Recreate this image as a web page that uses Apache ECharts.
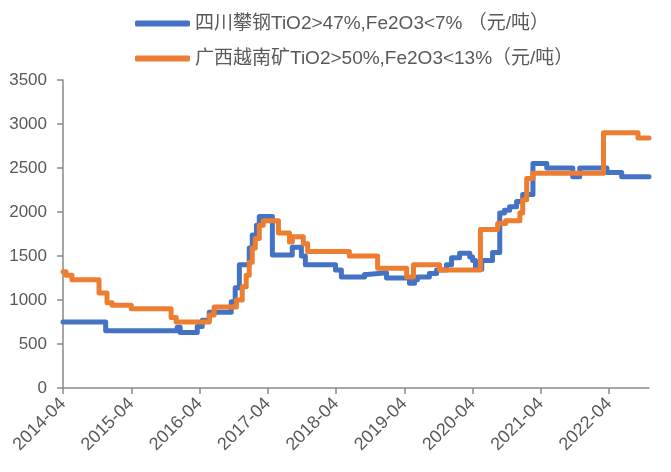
<!DOCTYPE html>
<html>
<head>
<meta charset="utf-8">
<script src="https://cdn.jsdelivr.net/npm/echarts@6/dist/echarts.min.js"></script>
<style>
  html, body { margin: 0; padding: 0; background: #fff; }
  #chart { width: 671px; height: 472px; }
</style>
</head>
<body>
<div id="chart"></div>
<script>
// Price series, stored as change points: each value holds from its date until the next date.
const seriesNames = [
  '四川攀钢TiO2>47%,Fe2O3<7% （元/吨）',
  '广西越南矿TiO2>50%,Fe2O3<13%（元/吨）'
];

const sichuanDates = [
  '2014-04-01', '2014-11-16', '2015-12-03', '2015-12-19', '2016-03-19', '2016-04-15',
  '2016-05-22', '2016-09-18', '2016-10-09', '2016-11-01', '2016-12-23', '2017-01-09',
  '2017-02-01', '2017-02-16', '2017-04-25', '2017-08-10', '2017-09-28', '2017-10-19',
  '2018-03-28', '2018-04-29', '2018-09-01', '2018-09-16', '2018-12-27', '2019-04-28',
  '2019-05-25', '2019-06-10', '2019-08-13', '2019-09-21', '2019-11-13', '2019-12-10',
  '2020-01-22', '2020-03-16', '2020-04-01', '2020-04-16', '2020-05-19', '2020-07-16',
  '2020-08-24', '2020-09-19', '2020-10-16', '2020-11-23', '2020-12-25', '2021-02-19',
  '2021-05-02', '2021-09-19', '2021-10-26', '2022-03-19', '2022-06-07', '2022-11-01'
];
const sichuanPrices = [
  750, 650, 690, 630, 700, 770,
  860, 980, 1140, 1400, 1590, 1740,
  1850, 1950, 1510, 1600, 1500, 1400,
  1340, 1260, 1290, 1310, 1250, 1190,
  1230, 1260, 1300, 1340, 1400, 1480,
  1530, 1490, 1450, 1350, 1450, 1540,
  1990, 2020, 2060, 2120, 2200, 2550,
  2500, 2400, 2500, 2450, 2400, 2400
];

const guangxiDates = [
  '2014-04-01', '2014-04-17', '2014-05-18', '2014-10-11', '2014-11-23', '2014-12-20',
  '2015-04-01', '2015-11-01', '2015-11-28', '2016-05-22', '2016-06-18', '2016-10-15',
  '2016-11-16', '2016-12-07', '2016-12-23', '2017-01-09', '2017-01-25', '2017-02-16',
  '2017-03-07', '2017-05-27', '2017-07-25', '2017-08-10', '2017-10-08', '2017-11-01',
  '2018-06-11', '2018-11-10', '2019-04-13', '2019-05-19', '2019-10-07', '2020-05-12',
  '2020-08-13', '2020-09-25', '2020-12-10', '2020-12-25', '2021-01-16', '2021-02-19',
  '2022-03-01', '2022-09-03', '2022-11-01'
];
const guangxiPrices = [
  1320, 1280, 1230, 1080, 970, 940,
  900, 800, 750, 830, 920, 1000,
  1150, 1280, 1430, 1590, 1700, 1850,
  1900, 1760, 1660, 1720, 1640, 1550,
  1500, 1360, 1260, 1400, 1340, 1800,
  1870, 1900, 1990, 2140, 2380, 2440,
  2900, 2840, 2840
];

// x axis runs in months counted from 2014-04; labels every 12 months
const startYear = 2014, startMonth = 4;
const endMonthIndex = 103;
const tickMonths = [0, 12, 24, 36, 48, 60, 72, 84, 96];

function toMonthIndex(dateStr) {
  const [y, m, d] = dateStr.split('-').map(Number);
  return (y - startYear) * 12 + (m - startMonth) + (d - 1) / 30;
}
function monthLabel(idx) {
  const total = startMonth - 1 + Math.round(idx);
  const y = startYear + Math.floor(total / 12);
  const m = (total % 12) + 1;
  return y + '-' + (m < 10 ? '0' + m : m);
}
function pairs(dates, values) {
  return dates.map((d, i) => [toMonthIndex(d), values[i]]);
}

const axisColor = '#898989';
const textColor = '#595959';
const fontFamily = '"Liberation Sans", Arial, "Noto Sans CJK SC", sans-serif';

const chart = echarts.init(document.getElementById('chart'), null, { renderer: 'canvas' });
chart.setOption({
  animation: false,
  color: ['#4472C4', '#ED7D31'],
  textStyle: { fontFamily: fontFamily },
  legend: {
    orient: 'vertical',
    left: 135,
    top: 14,
    padding: 0,
    itemGap: 16,
    itemWidth: 55,
    itemHeight: 6,
    icon: 'roundRect',
    textStyle: { color: textColor, fontSize: 19, fontFamily: fontFamily }
  },
  grid: { left: 63, right: 22, top: 80, bottom: 84 },
  xAxis: {
    type: 'value',
    min: 0,
    max: endMonthIndex,
    interval: 12,
    splitLine: { show: false },
    axisLine: { lineStyle: { color: axisColor, width: 1.5 } },
    axisTick: { show: true, length: 6, lineStyle: { color: axisColor, width: 1.5 }, customValues: tickMonths },
    axisLabel: {
      color: textColor,
      fontSize: 18,
      rotate: 45,
      margin: 13,
      customValues: tickMonths,
      formatter: v => monthLabel(v)
    }
  },
  yAxis: {
    type: 'value',
    min: 0,
    max: 3500,
    interval: 500,
    splitLine: { show: false },
    axisLine: { show: true, lineStyle: { color: axisColor, width: 1.5 } },
    axisTick: { show: true, length: 6, lineStyle: { color: axisColor, width: 1.5 } },
    axisLabel: { color: textColor, fontSize: 17, margin: 16, formatter: v => String(v) }
  },
  series: [
    {
      name: seriesNames[0],
      type: 'line',
      step: 'end',
      showSymbol: false,
      symbol: 'none',
      lineStyle: { width: 5, join: 'round', cap: 'round' },
      data: pairs(sichuanDates, sichuanPrices)
    },
    {
      name: seriesNames[1],
      type: 'line',
      step: 'end',
      showSymbol: false,
      symbol: 'none',
      lineStyle: { width: 5, join: 'round', cap: 'round' },
      data: pairs(guangxiDates, guangxiPrices)
    }
  ]
});
</script>
</body>
</html>
